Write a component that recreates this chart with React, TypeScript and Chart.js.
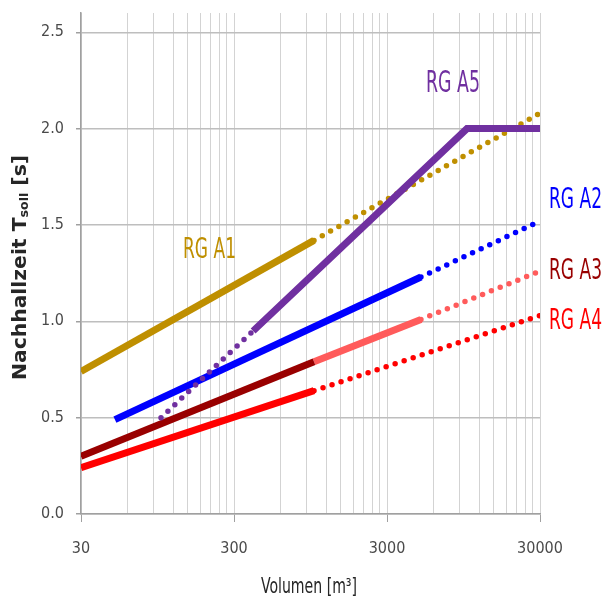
import React, { useEffect, useRef } from 'react';
import { Chart, registerables } from 'chart.js';

Chart.register(...registerables);

// ---- Data ----
const X_GRID = [
  30, 60, 90, 120, 150, 180, 210, 240, 270,
  300, 600, 900, 1200, 1500, 1800, 2100, 2400, 2700,
  3000, 6000, 9000, 12000, 15000, 18000, 21000, 24000, 27000,
  30000,
];
const X_LABELS = [30, 300, 3000, 30000];
const Y_TICKS = [0, 0.5, 1.0, 1.5, 2.0, 2.5];

const A1_SOLID_X = [30, 1000];
const A1_SOLID_Y = [0.74, 1.42];
const A1_DOT_X = [1000, 30000];
const A1_DOT_Y = [1.42, 2.08];

const A2_SOLID_X = [50, 5000];
const A2_SOLID_Y = [0.49, 1.23];
const A2_DOT_X = [5000, 30000];
const A2_DOT_Y = [1.23, 1.52];

const A3_DARK_X = [30, 1000];
const A3_DARK_Y = [0.3, 0.79];
const A3_LIGHT_X = [1000, 5000];
const A3_LIGHT_Y = [0.79, 1.01];
const A3_DOT_X = [5000, 30000];
const A3_DOT_Y = [1.01, 1.26];

const A4_SOLID_X = [30, 1000];
const A4_SOLID_Y = [0.24, 0.64];
const A4_DOT_X = [1000, 30000];
const A4_DOT_Y = [0.64, 1.03];

const A5_DOT_X = [100, 400];
const A5_DOT_Y = [0.5, 0.95];
const A5_SOLID_X = [400, 10000, 30000];
const A5_SOLID_Y = [0.95, 2.0, 2.0];

const SERIES_NAMES = ['RG A1', 'RG A2', 'RG A3', 'RG A4', 'RG A5'];

// ---- Styles ----
const C_GOLD = '#BF8F00';
const C_BLUE = '#0000FF';
const C_DARKRED = '#990000';
const C_SALMON = '#FF5B5B';
const C_RED = '#FF0000';
const C_PURPLE = '#7030A0';

const NARROW = "'Liberation Sans Narrow', 'DejaVu Sans Condensed', sans-serif";

const pts = (xs: number[], ys: number[]) => xs.map((x, i) => ({ x, y: ys[i] }));

const solid = (label: string, xs: number[], ys: number[], color: string) => ({
  label,
  data: pts(xs, ys),
  showLine: true,
  borderColor: color,
  backgroundColor: color,
  borderWidth: 7,
  borderCapStyle: 'butt' as const,
  pointRadius: 0,
  pointHoverRadius: 0,
});

const dotted = (label: string, xs: number[], ys: number[], color: string) => ({
  label,
  data: pts(xs, ys),
  showLine: true,
  borderColor: color,
  backgroundColor: color,
  borderWidth: 5.5,
  borderDash: [0, 9.5],
  borderCapStyle: 'round' as const,
  pointRadius: 0,
  pointHoverRadius: 0,
});

// label annotations (pixel anchor: centre x, cap top, width, cap height)
const LABEL_BOXES = [
  { cx: 209.5, top: 237, w: 53, h: 21, color: C_GOLD },
  { cx: 575.5, top: 187, w: 53, h: 21, color: C_BLUE },
  { cx: 575.5, top: 258, w: 53, h: 21, color: C_DARKRED },
  { cx: 575.5, top: 308, w: 53, h: 21, color: C_RED },
  { cx: 453, top: 70, w: 54, h: 22, color: C_PURPLE },
];

function capScale(ctx: CanvasRenderingContext2D, weight: string, family: string, capH: number) {
  ctx.font = `${weight} 100px ${family}`;
  const asc = ctx.measureText('H').actualBoundingBoxAscent || 72;
  return (100 * capH) / asc;
}

function fitText(
  ctx: CanvasRenderingContext2D,
  text: string,
  cx: number,
  top: number,
  w: number,
  h: number,
  weight: string,
  family: string,
  color: string
) {
  const size = capScale(ctx, weight, family, h);
  ctx.font = `${weight} ${size}px ${family}`;
  const m = ctx.measureText(text).width;
  ctx.save();
  ctx.translate(cx - w / 2, top + h);
  ctx.scale(w / m, 1);
  ctx.fillStyle = color;
  ctx.textAlign = 'left';
  ctx.textBaseline = 'alphabetic';
  ctx.fillText(text, 0, 0);
  ctx.restore();
}

const textPlugin = {
  id: 'textPlugin',
  afterDraw(chart: any) {
    const ctx: CanvasRenderingContext2D = chart.ctx;
    ctx.save();
    SERIES_NAMES.forEach((name, i) => {
      const b = LABEL_BOXES[i];
      fitText(ctx, name, b.cx, b.top, b.w, b.h, 'normal', NARROW, b.color);
    });
    fitText(ctx, 'Volumen [m³]', 309, 578, 96, 15, 'normal', NARROW, '#262626');

    const fam = "'DejaVu Sans', sans-serif";
    const S = capScale(ctx, 'bold', fam, 14);
    const s2 = S * 0.62;
    const p1 = 'Nachhallzeit T';
    const p2 = 'soll';
    const p3 = ' [s]';
    ctx.font = `bold ${S}px ${fam}`;
    const w1 = ctx.measureText(p1).width;
    const w3 = ctx.measureText(p3).width;
    ctx.font = `bold ${s2}px ${fam}`;
    const w2 = ctx.measureText(p2).width;
    const total = w1 + w2 + w3;
    const L = 225;
    ctx.save();
    ctx.translate(26, 380);
    ctx.rotate(-Math.PI / 2);
    ctx.scale(L / total, 1);
    ctx.fillStyle = '#262626';
    ctx.textAlign = 'left';
    ctx.textBaseline = 'alphabetic';
    ctx.font = `bold ${S}px ${fam}`;
    ctx.fillText(p1, 0, 0);
    ctx.font = `bold ${s2}px ${fam}`;
    ctx.fillText(p2, w1, 2);
    ctx.font = `bold ${S}px ${fam}`;
    ctx.fillText(p3, w1 + w2, 0);
    ctx.restore();
    ctx.restore();
  },
};

export default function App() {
  const ref = useRef<HTMLCanvasElement | null>(null);

  useEffect(() => {
    if (!ref.current) return;
    const tfs = 16;
    const datasets = [
      solid(SERIES_NAMES[4], A5_SOLID_X, A5_SOLID_Y, C_PURPLE),
      dotted(SERIES_NAMES[4], A5_DOT_X, A5_DOT_Y, C_PURPLE),
      solid(SERIES_NAMES[0], A1_SOLID_X, A1_SOLID_Y, C_GOLD),
      dotted(SERIES_NAMES[0], A1_DOT_X, A1_DOT_Y, C_GOLD),
      solid(SERIES_NAMES[1], A2_SOLID_X, A2_SOLID_Y, C_BLUE),
      dotted(SERIES_NAMES[1], A2_DOT_X, A2_DOT_Y, C_BLUE),
      solid(SERIES_NAMES[2], A3_DARK_X, A3_DARK_Y, C_DARKRED),
      solid(SERIES_NAMES[2], A3_LIGHT_X, A3_LIGHT_Y, C_SALMON),
      dotted(SERIES_NAMES[2], A3_DOT_X, A3_DOT_Y, C_SALMON),
      solid(SERIES_NAMES[3], A4_SOLID_X, A4_SOLID_Y, C_RED),
      dotted(SERIES_NAMES[3], A4_DOT_X, A4_DOT_Y, C_RED),
    ];
    const chart = new Chart(ref.current, {
      type: 'scatter',
      data: { datasets: datasets as any },
      options: {
        animation: false,
        responsive: true,
        maintainAspectRatio: false,
        events: [],
        layout: { padding: { top: 13, right: 66, left: 0, bottom: 0 } },
        plugins: {
          legend: { display: false },
          tooltip: { enabled: false },
          title: { display: false },
        },
        scales: {
          x: {
            type: 'logarithmic',
            min: 30,
            max: 30000,
            afterBuildTicks: (scale: any) => {
              scale.ticks = X_GRID.map((v) => ({ value: v }));
            },
            afterFit: (scale: any) => {
              scale.height = 87;
              scale.paddingLeft = 0;
              scale.paddingRight = 0;
            },
            ticks: {
              autoSkip: false,
              maxRotation: 0,
              padding: 17,
              color: '#4a4a4a',
              font: { family: NARROW, size: tfs },
              callback: (v: any) => (X_LABELS.includes(Number(v)) ? String(v) : ''),
            },
            grid: {
              color: '#D3D3D3',
              lineWidth: 1,
              tickLength: 8,
              tickColor: (c: any) =>
                c.tick && X_LABELS.includes(c.tick.value) ? '#A0A0A0' : 'rgba(0,0,0,0)',
            },
            border: { color: '#A0A0A0', width: 1.5 },
          },
          y: {
            type: 'linear',
            min: 0,
            max: 2.6,
            afterBuildTicks: (scale: any) => {
              scale.ticks = Y_TICKS.map((v) => ({ value: v }));
            },
            afterFit: (scale: any) => {
              scale.width = 81;
              scale.paddingTop = 0;
              scale.paddingBottom = 0;
            },
            ticks: {
              padding: 12,
              color: '#4a4a4a',
              font: { family: NARROW, size: tfs },
              callback: (v: any) => Number(v).toFixed(1),
            },
            grid: {
              color: '#BEBEBE',
              lineWidth: 1.5,
              tickLength: 5,
              tickColor: '#A0A0A0',
            },
            border: { color: '#A0A0A0', width: 1.5 },
          },
        },
      },
      plugins: [textPlugin],
    });
    return () => chart.destroy();
  }, []);

  return (
    <div style={{ position: 'absolute', left: 0, top: 0, width: 606, height: 601, background: '#fff' }}>
      <canvas ref={ref} />
    </div>
  );
}
